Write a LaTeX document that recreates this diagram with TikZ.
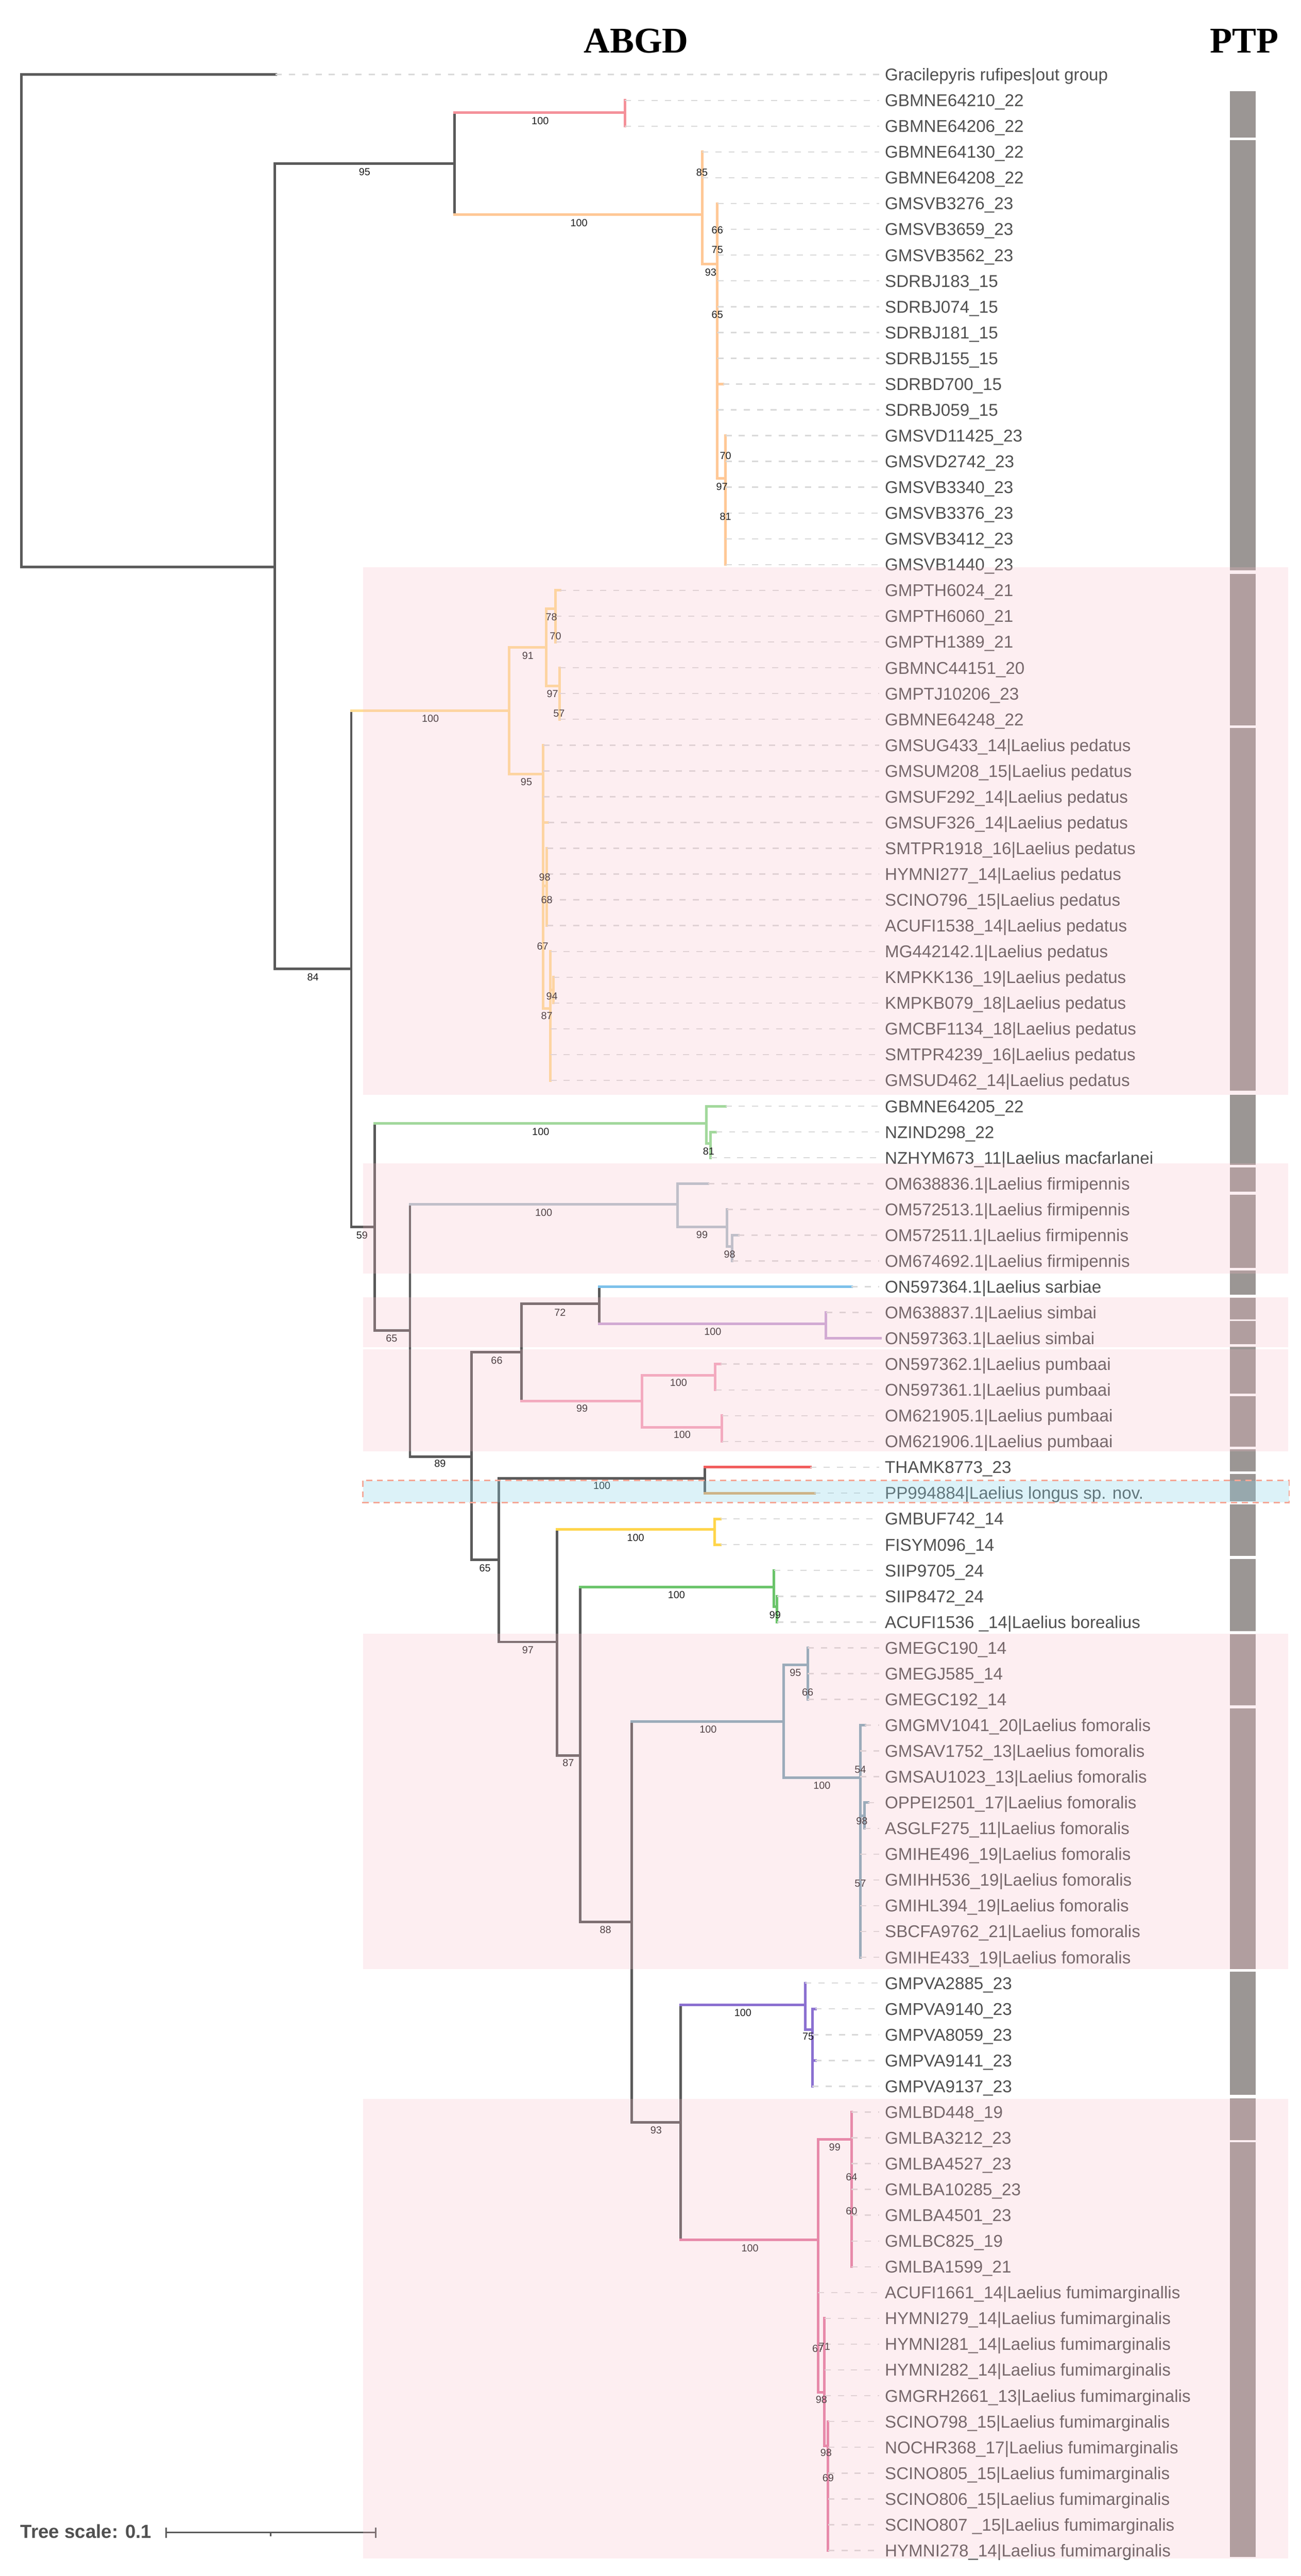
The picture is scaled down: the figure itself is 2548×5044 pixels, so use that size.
\documentclass[tikz,border=0pt]{standalone}
\usepackage{fontspec}
\setmainfont{Liberation Sans}
\newfontfamily\hdrfont{Liberation Serif}
\definecolor{cDark}{HTML}{5A5A5A}
\definecolor{cRed}{HTML}{F4919A}
\definecolor{cOrange}{HTML}{FFC896}
\definecolor{cYel}{HTML}{FFDD96}
\definecolor{cGreenA}{HTML}{A2D89C}
\definecolor{cFirm}{HTML}{AFC2CB}
\definecolor{cSarb}{HTML}{7CC1EA}
\definecolor{cSimb}{HTML}{C7A6D8}
\definecolor{cPumb}{HTML}{F2A6BE}
\definecolor{cThamk}{HTML}{F25C5C}
\definecolor{cPP}{HTML}{E9A65F}
\definecolor{cGold}{HTML}{FFD54A}
\definecolor{cSiip}{HTML}{6AC46A}
\definecolor{cFomo}{HTML}{7FA7B7}
\definecolor{cPurp}{HTML}{8B70D1}
\definecolor{cFumi}{HTML}{E27CA2}
\definecolor{cTxt}{HTML}{505050}
\definecolor{cLead}{HTML}{D9D9D9}
\definecolor{cBar}{HTML}{9B9694}
\definecolor{cPinkOv}{HTML}{F7B8C5}
\definecolor{cBlueOv}{HTML}{8ED4E8}
\definecolor{cSalmon}{HTML}{F4A898}
\tikzset{
  br/.style={line width=5pt, line cap=rect, line join=miter},
  lead/.style={draw=cLead, line width=2.5pt, dash pattern=on 12pt off 14pt},
  leaflab/.style={anchor=base west, inner sep=0pt, text=cTxt, font=\fontsize{33.5}{40}\selectfont},
  bsl/.style={anchor=center, inner sep=0pt, text=black!88, font=\fontsize{20}{24}\selectfont},
  hdr/.style={anchor=base west, inner sep=0pt, font=\hdrfont\bfseries\fontsize{71}{80}\selectfont},
  ptpbar/.style={fill=cBar},
  pinkband/.style={fill=cPinkOv, fill opacity=0.24},
  blueband/.style={fill=cBlueOv, fill opacity=0.3},
}
\begin{document}
\begin{tikzpicture}[x=1pt,y=-1pt]
\useasboundingbox (0,0) rectangle (2548,5044);
\fill[white] (0,0) rectangle (2548,5044);

% headers
\node[hdr] (habgd) at (1143,103) {ABGD};
\node[hdr] (hptp) at (2370,103) {PTP};

% ---------- dark backbone ----------
\draw[br,draw=cDark] (540,146) -- (42,146) -- (42,1110) -- (538,1110);
\draw[br,draw=cDark] (890,320) -- (538,320) -- (538,1897) -- (688,1897);
\draw[br,draw=cDark] (890,220) -- (890,420);
\draw[br,draw=cDark] (688,1392) -- (688,2402) -- (734,2402);
\draw[br,draw=cDark] (734,2200) -- (734,2605) -- (803,2605);
\draw[br,draw=cDark] (803,2358) -- (803,2852) -- (924,2852);
\draw[br,draw=cDark] (1021,2648) -- (924,2648) -- (924,3054) -- (977,3054);
\draw[br,draw=cDark] (1021,2553) -- (1021,2743);
\draw[br,draw=cDark] (1021,2553) -- (1174,2553);
\draw[br,draw=cDark] (1174,2519.5) -- (1174,2592);
\draw[br,draw=cDark] (977,2895) -- (977,3215) -- (1091,3215);
\draw[br,draw=cDark] (977,2895) -- (1381,2895);
\draw[br,draw=cDark] (1381,2873) -- (1381,2923.5);
\draw[br,draw=cDark] (1091,2995) -- (1091,3437) -- (1136,3437);
\draw[br,draw=cDark] (1136,3108) -- (1136,3763) -- (1237,3763);
\draw[br,draw=cDark] (1237,3371) -- (1237,4156) -- (1333,4156);
\draw[br,draw=cDark] (1333,3926) -- (1333,4386);

% ---------- coloured clades ----------
\draw[br,draw=cRed] (890,220) -- (1224,220) (1224,196.5) -- (1224,247);
\draw[br,draw=cOrange] (890,420) -- (1375,420) (1375,297.5) -- (1375,517) -- (1405,517)
  (1405,398.5) -- (1405,937) -- (1421,937) (1405,752) -- (1416,752) (1421,853) -- (1421,1105.5);
\draw[br,draw=cYel] (688,1392) -- (997,1392) (997,1268) -- (997,1516)
  (997,1268) -- (1070,1268) (1070,1192) -- (1070,1343)
  (1070,1192) -- (1088,1192) (1088,1156) -- (1088,1257) (1088,1156) -- (1097,1156)
  (1070,1343) -- (1096,1343) (1096,1307.5) -- (1096,1408.5)
  (997,1516) -- (1064,1516) (1064,1459) -- (1064,1975) (1064,1610.5) -- (1073,1610.5)
  (1064,1735) -- (1071,1735) (1071,1661) -- (1071,1812.5)
  (1064,1975) -- (1078,1975) (1078,1863) -- (1078,2115.5)
  (1078,1938) -- (1084,1938) (1084,1913.5) -- (1084,1964);
\draw[br,draw=cGreenA] (734,2200) -- (1384,2200) (1384,2166) -- (1384,2239) -- (1392,2239)
  (1384,2166) -- (1421,2166) (1392,2216.5) -- (1392,2267) (1392,2216.5) -- (1402,2216.5);
\draw[br,draw=cFirm] (803,2358) -- (1327,2358) (1327,2317.5) -- (1327,2402) -- (1424,2402)
  (1327,2317.5) -- (1387,2317.5) (1424,2368) -- (1424,2441) -- (1434,2441)
  (1434,2418.5) -- (1434,2469) (1434,2418.5) -- (1446,2418.5);
\draw[br,draw=cSarb] (1174,2519.5) -- (1668,2519.5);
\draw[br,draw=cSimb] (1174,2592) -- (1618,2592) (1618,2570) -- (1618,2620.5) -- (1725,2620.5);
\draw[br,draw=cPumb] (1021,2743) -- (1257,2743) (1257,2693) -- (1257,2795)
  (1257,2693) -- (1401,2693) (1401,2671) -- (1401,2721.5) (1401,2671) -- (1411,2671)
  (1257,2795) -- (1414,2795) (1414,2772) -- (1414,2822.5);
\draw[br,draw=cThamk] (1381,2873) -- (1587,2873);
\draw[br,draw=cPP] (1381,2923.5) -- (1595,2923.5);
\draw[br,draw=cGold] (1091,2995) -- (1400,2995) (1400,2974) -- (1400,3024.5)
  (1400,2974) -- (1411,2974) (1400,3024.5) -- (1411,3024.5);
\draw[br,draw=cSiip] (1136,3108) -- (1516,3108) (1516,3075) -- (1516,3146) -- (1522,3146)
  (1522,3125.5) -- (1522,3176);
\draw[br,draw=cFomo] (1237,3371) -- (1535,3371) (1535,3260) -- (1535,3481)
  (1535,3260) -- (1582,3260) (1582,3226.5) -- (1582,3327.5)
  (1535,3481) -- (1685,3481) (1685,3378) -- (1685,3832.5) (1685,3378) -- (1694,3378)
  (1685,3555) -- (1693,3555) (1693,3529.5) -- (1693,3580) (1693,3529.5) -- (1700,3529.5);
\draw[br,draw=cPurp] (1333,3926) -- (1577,3926) (1577,3883) -- (1577,3974) -- (1591,3974)
  (1591,3933.5) -- (1591,4085) (1591,3933.5) -- (1597,3933.5) (1591,4034.5) -- (1597,4034.5);
\draw[br,draw=cFumi] (1333,4386) -- (1602,4386) (1602,4189) -- (1602,4684)
  (1602,4189) -- (1668,4189) (1668,4135.5) -- (1668,4438.5)
  (1602,4684) -- (1615,4684) (1615,4539.5) -- (1615,4789) -- (1622,4789)
  (1622,4741.5) -- (1622,4994);

% ---------- leaves ----------
\foreach \i/\tx/\lab in {
1/540/{Gracilepyris rufipes|out group},
2/1224/{GBMNE64210\_22},
3/1224/{GBMNE64206\_22},
4/1375/{GBMNE64130\_22},
5/1375/{GBMNE64208\_22},
6/1405/{GMSVB3276\_23},
7/1405/{GMSVB3659\_23},
8/1405/{GMSVB3562\_23},
9/1405/{SDRBJ183\_15},
10/1405/{SDRBJ074\_15},
11/1405/{SDRBJ181\_15},
12/1405/{SDRBJ155\_15},
13/1416/{SDRBD700\_15},
14/1405/{SDRBJ059\_15},
15/1421/{GMSVD11425\_23},
16/1421/{GMSVD2742\_23},
17/1421/{GMSVB3340\_23},
18/1421/{GMSVB3376\_23},
19/1421/{GMSVB3412\_23},
20/1421/{GMSVB1440\_23},
21/1097/{GMPTH6024\_21},
22/1088/{GMPTH6060\_21},
23/1088/{GMPTH1389\_21},
24/1096/{GBMNC44151\_20},
25/1096/{GMPTJ10206\_23},
26/1096/{GBMNE64248\_22},
27/1064/{GMSUG433\_14|Laelius pedatus},
28/1064/{GMSUM208\_15|Laelius pedatus},
29/1064/{GMSUF292\_14|Laelius pedatus},
30/1073/{GMSUF326\_14|Laelius pedatus},
31/1071/{SMTPR1918\_16|Laelius pedatus},
32/1071/{HYMNI277\_14|Laelius pedatus},
33/1071/{SCINO796\_15|Laelius pedatus},
34/1071/{ACUFI1538\_14|Laelius pedatus},
35/1078/{MG442142.1|Laelius pedatus},
36/1084/{KMPKK136\_19|Laelius pedatus},
37/1084/{KMPKB079\_18|Laelius pedatus},
38/1078/{GMCBF1134\_18|Laelius pedatus},
39/1078/{SMTPR4239\_16|Laelius pedatus},
40/1078/{GMSUD462\_14|Laelius pedatus},
41/1421/{GBMNE64205\_22},
42/1402/{NZIND298\_22},
43/1392/{NZHYM673\_11|Laelius macfarlanei},
44/1387/{OM638836.1|Laelius firmipennis},
45/1424/{OM572513.1|Laelius firmipennis},
46/1446/{OM572511.1|Laelius firmipennis},
47/1434/{OM674692.1|Laelius firmipennis},
48/1668/{ON597364.1|Laelius sarbiae},
49/1618/{OM638837.1|Laelius simbai},
50/1722/{ON597363.1|Laelius simbai},
51/1411/{ON597362.1|Laelius pumbaai},
52/1401/{ON597361.1|Laelius pumbaai},
53/1414/{OM621905.1|Laelius pumbaai},
54/1414/{OM621906.1|Laelius pumbaai},
55/1587/{THAMK8773\_23},
56/1595/{PP994884|Laelius longus sp. nov.},
57/1411/{GMBUF742\_14},
58/1411/{FISYM096\_14},
59/1516/{SIIP9705\_24},
60/1522/{SIIP8472\_24},
61/1522/{ACUFI1536 \_14|Laelius borealius},
62/1582/{GMEGC190\_14},
63/1582/{GMEGJ585\_14},
64/1582/{GMEGC192\_14},
65/1694/{GMGMV1041\_20|Laelius fomoralis},
66/1685/{GMSAV1752\_13|Laelius fomoralis},
67/1685/{GMSAU1023\_13|Laelius fomoralis},
68/1700/{OPPEI2501\_17|Laelius fomoralis},
69/1693/{ASGLF275\_11|Laelius fomoralis},
70/1685/{GMIHE496\_19|Laelius fomoralis},
71/1685/{GMIHH536\_19|Laelius fomoralis},
72/1685/{GMIHL394\_19|Laelius fomoralis},
73/1685/{SBCFA9762\_21|Laelius fomoralis},
74/1685/{GMIHE433\_19|Laelius fomoralis},
75/1577/{GMPVA2885\_23},
76/1597/{GMPVA9140\_23},
77/1591/{GMPVA8059\_23},
78/1597/{GMPVA9141\_23},
79/1591/{GMPVA9137\_23},
80/1668/{GMLBD448\_19},
81/1668/{GMLBA3212\_23},
82/1668/{GMLBA4527\_23},
83/1668/{GMLBA10285\_23},
84/1668/{GMLBA4501\_23},
85/1668/{GMLBC825\_19},
86/1668/{GMLBA1599\_21},
87/1602/{ACUFI1661\_14|Laelius fumimarginallis},
88/1615/{HYMNI279\_14|Laelius fumimarginalis},
89/1615/{HYMNI281\_14|Laelius fumimarginalis},
90/1615/{HYMNI282\_14|Laelius fumimarginalis},
91/1615/{GMGRH2661\_13|Laelius fumimarginalis},
92/1622/{SCINO798\_15|Laelius fumimarginalis},
93/1622/{NOCHR368\_17|Laelius fumimarginalis},
94/1622/{SCINO805\_15|Laelius fumimarginalis},
95/1622/{SCINO806\_15|Laelius fumimarginalis},
96/1622/{SCINO807 \_15|Laelius fumimarginalis},
97/1622/{HYMNI278\_14|Laelius fumimarginalis}}{
  \pgfmathsetmacro{\yy}{146+50.5*(\i-1)}
  \node[leaflab] (l\i) at (1733,{\yy+12}) {\lab};
  \coordinate (t\i) at (\tx,\yy);
  \draw[lead] (t\i) -- (1722,\yy);
}

% ---------- bootstrap values ----------
\foreach \bx/\by/\bt [count=\k] in {
714/337/95, 1058/237/100, 1134/436/100, 1375/338/85, 1392/533/93,
1405/451/66, 1405/489/75, 1405/616/65, 1421/892/70, 1414/953/97, 1421/1011/81,
613/1913/84, 843/1407/100, 1034/1284/91, 1031/1531/95, 1080/1208/78, 1088/1246/70,
1082/1359/97, 1095/1397/57, 1067/1718/98, 1071/1762/68, 1063/1853/67, 1081/1951/94,
1071/1989/87, 709/2419/59, 1059/2216/100, 1388/2254/81, 767/2621/65, 1065/2374/100,
1375/2418/99, 1429/2456/98, 862/2866/89, 973/2664/66, 1097/2570/72, 1396/2607/100,
1140/2758/99, 1329/2707/100, 1336/2809/100, 950/3070/65, 1179/2909/100, 1034/3231/97,
1245/3011/100, 1113/3452/87, 1325/3123/100, 1518/3162/99, 1186/3779/88, 1387/3386/100,
1558/3275/95, 1582/3314/66, 1610/3496/100, 1685/3465/54, 1688/3566/98, 1685/3688/57,
1285/4171/93, 1455/3941/100, 1583/3988/75, 1469/4402/100, 1635/4204/99, 1668/4263/64,
1668/4329/60, 1602/4599/67, 1615/4595/71, 1609/4699/98, 1618/4803/98, 1622/4852/69}{
  \node[bsl] (bs\k) at (\bx,\by) {\bt};
}

% ---------- PTP bars ----------
\foreach \ya/\yb [count=\k] in {179/269, 274.5/1117, 1124/1420, 1425/2136, 2144/2281,
  2286/2333, 2339/2483, 2488/2535, 2541/2583, 2587/2632, 2637/2729, 2734/2833,
  2838/2881, 2886/2940, 2946/3047, 3053/3194, 3200/3339, 3345/3856, 3861/4102,
  4109/4190, 4195/5007}{
  \fill[ptpbar] (2409,\ya) rectangle (2459,\yb);
}

% ---------- scale bar ----------
\node[anchor=base west, inner sep=0pt, text=cTxt, font=\bfseries\fontsize{37}{44}\selectfont] (scl) at (40,4970) {Tree scale: 0.1};
\coordinate (sa) at (325,4959);
\coordinate (sb) at (736,4959);
\draw[draw=cDark, line width=3pt] (sa) -- (sb);
\draw[draw=cDark, line width=3pt] (325,4949) -- (325,4969) (736,4949) -- (736,4969) (530,4959) -- (530,4966);

% ---------- overlay bands ----------
\fill[pinkband] (711,1111) rectangle (2523,2144);
\fill[pinkband] (711,2278) rectangle (2523,2494);
\fill[pinkband] (711,2540) rectangle (2523,2638);
\fill[pinkband] (711,2642) rectangle (2523,2842);
\fill[pinkband] (711,3199) rectangle (2523,3856);
\fill[pinkband] (711,4110) rectangle (2523,5010);
\fill[blueband] (711,2899) rectangle (2525,2942);
\draw[draw=cSalmon, line width=3pt, dash pattern=on 12pt off 9pt] (711,2899) rectangle (2525,2942);
\end{tikzpicture}
\end{document}
